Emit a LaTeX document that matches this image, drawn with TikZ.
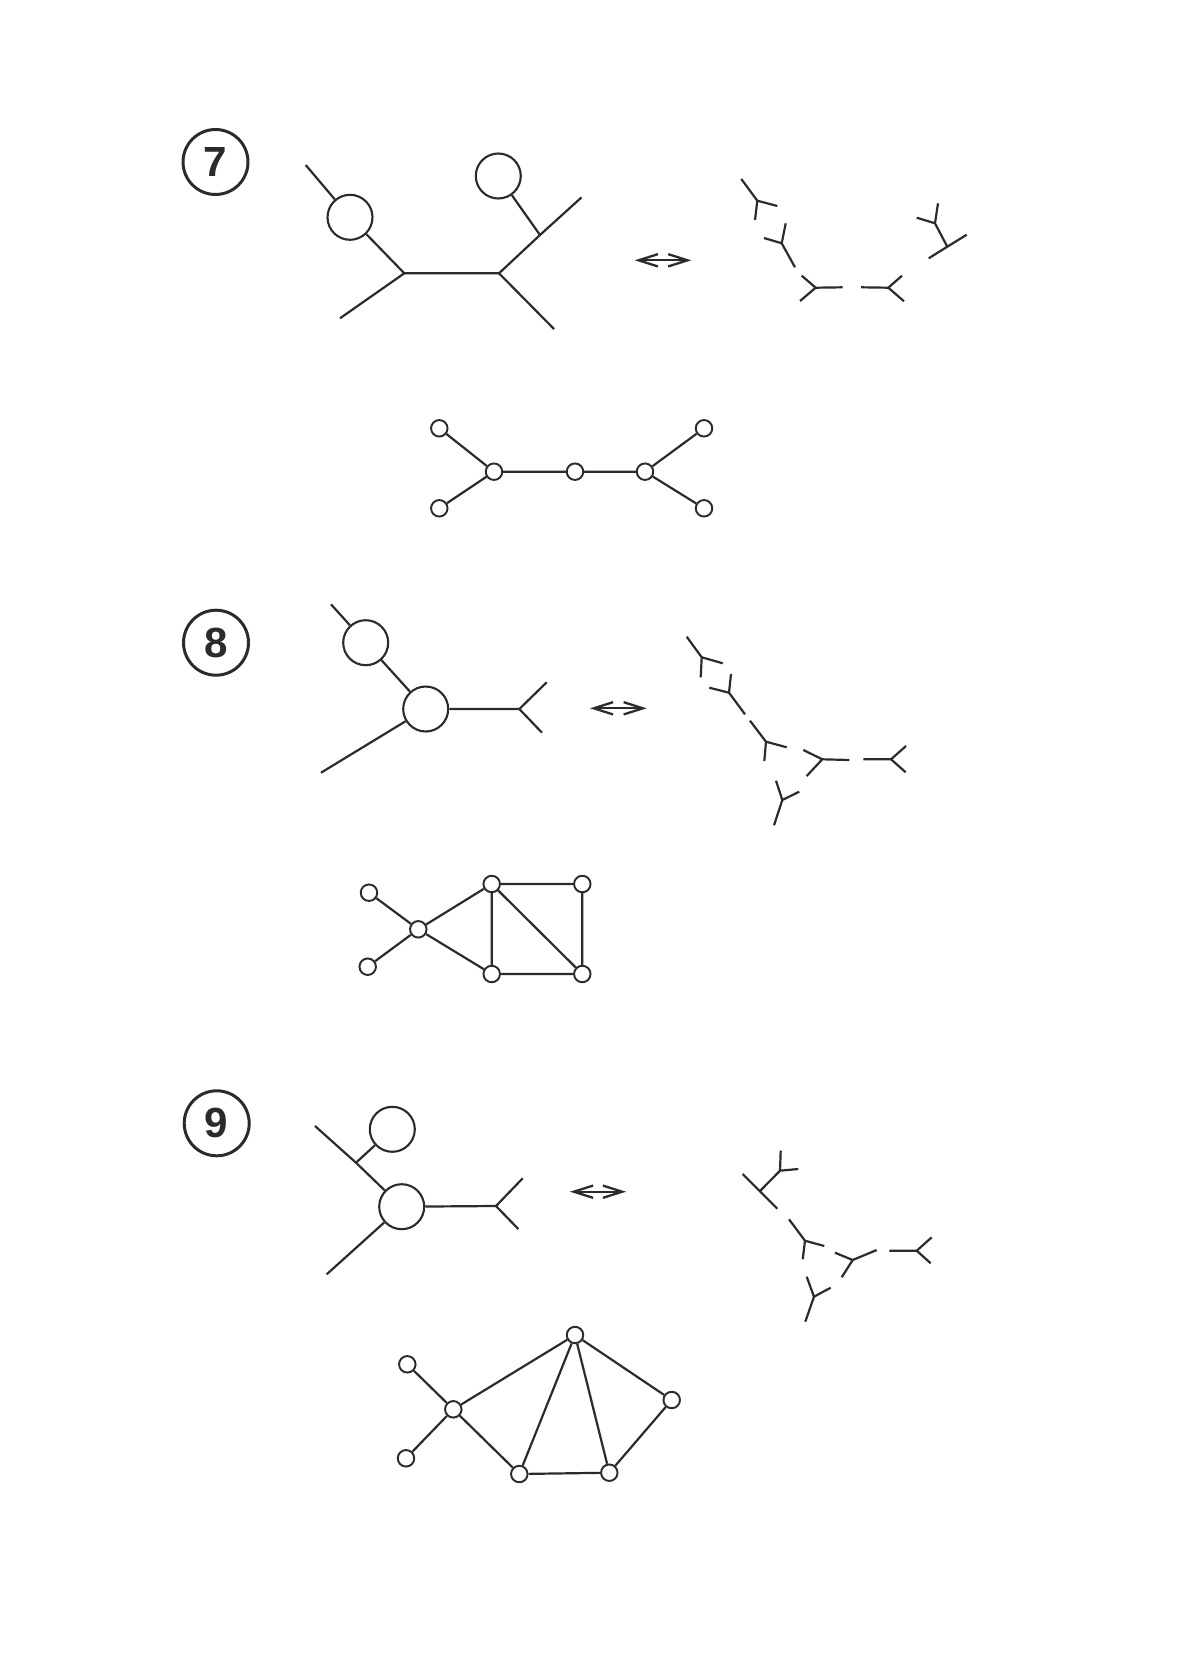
\documentclass[tikz,border=0pt]{standalone}
\usepackage{xcolor}
\usepackage{fontspec}
\setmainfont{Liberation Sans}
\usetikzlibrary{arrows.meta}
\definecolor{ink}{HTML}{2B2B2B}
\tikzset{
vtx/.style={circle,draw=ink,fill=white,line width=1.1pt,minimum size=0.33cm,inner sep=0pt},
blob/.style={circle,draw=ink,fill=white,line width=1.2pt,minimum size=0.9cm,inner sep=0pt},
tag/.style={circle,draw=ink,line width=1.7pt,minimum size=1.3cm,inner sep=0pt,text=ink,font=\fontsize{24}{24}\selectfont\bfseries},
bond/.style={draw=ink,line width=1.25pt},
swap/.style={draw=ink,line width=1.3pt,{Straight Barb[length=11pt,width=7pt]}-{Straight Barb[length=11pt,width=7pt]}}
}
\begin{document}
\begin{tikzpicture}[x=0.02cm,y=-0.02cm]
\useasboundingbox (0,0) rectangle (1196,1673);
\node[tag] (t7) at (215.5,162) {7};
\node[blob] (p1) at (350,217.3) {};
\node[blob] (p2) at (498.3,176) {};
\coordinate (u7) at (404.3,273.3);
\coordinate (v7) at (499,273.3);
\coordinate (w7) at (540,235);
\coordinate (e71) at (305.7,165);
\coordinate (e72) at (340,318.3);
\coordinate (e73) at (554,329);
\coordinate (e74) at (581.5,197.4);
\draw[bond] (e71) -- (p1) -- (u7) -- (v7) -- (w7) -- (e74);
\draw[bond] (u7) -- (e72) (v7) -- (e73) (w7) -- (p2);
\coordinate (s71) at (634.8,260.3);
\coordinate (s72) at (691.3,260.3);
\draw[swap] (s71) -- (s72);
\draw[bond] (757.3,200.7) -- (741.3,179) (757.3,200.7) -- (777.3,206) (757.3,200.7) -- (755,220);
\draw[bond] (781.7,243.3) -- (785.7,223.3) (781.7,243.3) -- (764,238) (781.7,243.3) -- (795,267.3);
\draw[bond] (815.7,287.7) -- (801.7,275.7) (815.7,287.7) -- (800,301) (815.7,287.7) -- (842.7,287.3);
\draw[bond] (888.3,287.7) -- (861,287.3) (888.3,287.7) -- (902,275.7) (888.3,287.7) -- (904,301.3);
\draw[bond] (935,223.3) -- (938,203.3) (935,223.3) -- (916.7,217.7) (935,223.3) -- (947.3,246.7);
\draw[bond] (947.3,246.7) -- (966.7,234.7) (947.3,246.7) -- (928.7,258.3);
\node[vtx] (n1) at (439.3,428.3) {};
\node[vtx] (n2) at (439.3,508.3) {};
\node[vtx] (n3) at (494,471.7) {};
\node[vtx] (n4) at (575,471.7) {};
\node[vtx] (n5) at (645,471.7) {};
\node[vtx] (n6) at (704,428.3) {};
\node[vtx] (n7) at (704,508.3) {};
\draw[bond] (n1) -- (n3) (n2) -- (n3) (n3) -- (n4) -- (n5) (n5) -- (n6) (n5) -- (n7);

\node[tag] (t8) at (216,642.7) {8};
\node[blob] (q1) at (365.7,642.7) {};
\node[blob] (q2) at (425.7,709) {};
\coordinate (y8) at (519.3,709);
\coordinate (e81) at (331,604.3);
\coordinate (e82) at (321,772.7);
\coordinate (e83) at (546.7,682.3);
\coordinate (e84) at (542,732.7);
\draw[bond] (e81) -- (q1) -- (q2) -- (y8) -- (e83);
\draw[bond] (q2) -- (e82) (y8) -- (e84);
\coordinate (s81) at (590,708.3);
\coordinate (s82) at (646.7,708.3);
\draw[swap] (s81) -- (s82);
\draw[bond] (701.7,657.3) -- (686.7,636.7) (701.7,657.3) -- (722.7,663.3) (701.7,657.3) -- (700.7,677.3);
\draw[bond] (729,692.7) -- (731,674) (729,692.7) -- (709.3,687.7) (729,692.7) -- (745,714.3);
\draw[bond] (766,741.7) -- (750,720.7) (766,741.7) -- (786.7,747.3) (766,741.7) -- (764.3,761);
\draw[bond] (822.3,759.3) -- (803.3,750) (822.3,759.3) -- (849.3,760) (822.3,759.3) -- (806.7,776);
\draw[bond] (891,759.3) -- (863.3,759.3) (891,759.3) -- (906,746) (891,759.3) -- (905.7,772.3);
\draw[bond] (782.3,800) -- (776,780.7) (782.3,800) -- (799.3,791.7) (782.3,800) -- (774,825.3);
\node[vtx] (m1) at (369,892.7) {};
\node[vtx] (m2) at (367.7,966.7) {};
\node[vtx] (m3) at (418.3,929.3) {};
\node[vtx] (m4) at (491.7,884) {};
\node[vtx] (m5) at (582.3,884) {};
\node[vtx] (m6) at (491.7,974) {};
\node[vtx] (m7) at (582.3,974) {};
\draw[bond] (m1) -- (m3) (m2) -- (m3) (m3) -- (m4) (m3) -- (m6) (m4) -- (m5) (m4) -- (m6) (m4) -- (m7) (m5) -- (m7) (m6) -- (m7);

\node[tag] (t9) at (216.7,1123.3) {9};
\node[blob] (r1) at (392.3,1129.3) {};
\node[blob] (r2) at (401.7,1206.7) {};
\coordinate (j9) at (356,1162.7);
\coordinate (y9) at (496,1206);
\coordinate (e91) at (315,1126);
\coordinate (e92) at (326.7,1274.3);
\coordinate (e93) at (522.7,1178.3);
\coordinate (e94) at (518.3,1229);
\draw[bond] (e91) -- (j9) -- (r2) -- (y9) -- (e93);
\draw[bond] (j9) -- (r1) (r2) -- (e92) (y9) -- (e94);
\coordinate (s91) at (570,1191.7);
\coordinate (s92) at (626,1191.7);
\draw[swap] (s91) -- (s92);
\draw[bond] (742.7,1174) -- (777.3,1208.7) (760,1191) -- (780,1170.7) -- (780.7,1150.7) (780,1170.7) -- (798.3,1169);
\draw[bond] (805,1240.7) -- (789,1219.3) (805,1240.7) -- (824.3,1246) (805,1240.7) -- (802.7,1259.3);
\draw[bond] (852.7,1260) -- (835,1252.7) (852.7,1260) -- (876.7,1250) (852.7,1260) -- (841.7,1277.3);
\draw[bond] (916.7,1250.7) -- (889.3,1250.7) (916.7,1250.7) -- (931.7,1237.3) (916.7,1250.7) -- (930.7,1263.3);
\draw[bond] (814,1296.7) -- (806.7,1276.7) (814,1296.7) -- (830.7,1287.7) (814,1296.7) -- (805.3,1321.7);
\node[vtx] (k1) at (407.3,1364.3) {};
\node[vtx] (k2) at (406,1458.3) {};
\node[vtx] (k3) at (453.3,1409.3) {};
\node[vtx] (k4) at (575,1335) {};
\node[vtx] (k5) at (671.7,1400) {};
\node[vtx] (k6) at (519.3,1474) {};
\node[vtx] (k7) at (609.3,1472.7) {};
\draw[bond] (k1) -- (k3) (k2) -- (k3) (k3) -- (k4) (k3) -- (k6) (k4) -- (k6) (k4) -- (k7) (k4) -- (k5) (k5) -- (k7) (k6) -- (k7);
\end{tikzpicture}
\end{document}
